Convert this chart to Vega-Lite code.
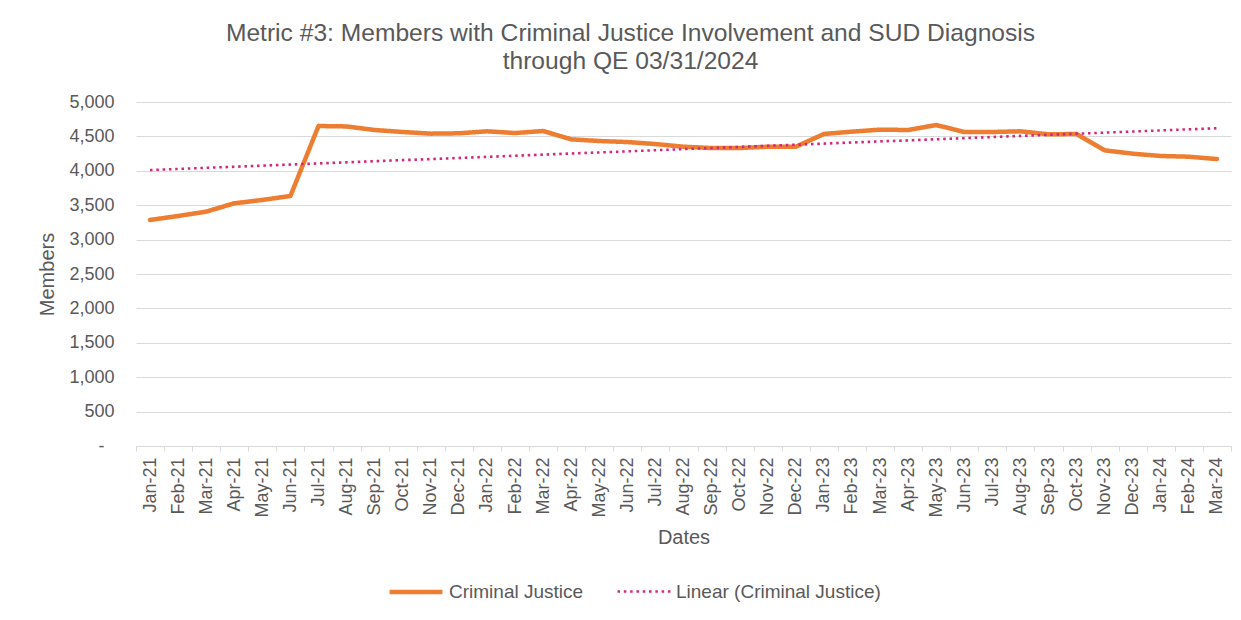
{
  "$schema": "https://vega.github.io/schema/vega-lite/v6.json",
  "width": 1095,
  "height": 344,
  "autosize": {"type": "none"},
  "padding": {"left": 136, "top": 102, "right": 10, "bottom": 174},
  "background": "white",
  "title": {
    "text": ["Metric #3: Members with Criminal Justice Involvement and SUD Diagnosis", "through QE 03/31/2024"],
    "font": "Liberation Sans",
    "fontSize": 24.6,
    "fontWeight": "normal",
    "color": "#595959",
    "anchor": "middle",
    "dx": -53,
    "lineHeight": 28,
    "offset": 18
  },
  "datasets": {
    "cj": [
      {"idx": 0, "month": "Jan-21", "members": 3285, "series": "Criminal Justice", "trend": "Linear (Criminal Justice)"},
      {"idx": 1, "month": "Feb-21", "members": 3343, "series": "Criminal Justice", "trend": "Linear (Criminal Justice)"},
      {"idx": 2, "month": "Mar-21", "members": 3406, "series": "Criminal Justice", "trend": "Linear (Criminal Justice)"},
      {"idx": 3, "month": "Apr-21", "members": 3527, "series": "Criminal Justice", "trend": "Linear (Criminal Justice)"},
      {"idx": 4, "month": "May-21", "members": 3576, "series": "Criminal Justice", "trend": "Linear (Criminal Justice)"},
      {"idx": 5, "month": "Jun-21", "members": 3634, "series": "Criminal Justice", "trend": "Linear (Criminal Justice)"},
      {"idx": 6, "month": "Jul-21", "members": 4651, "series": "Criminal Justice", "trend": "Linear (Criminal Justice)"},
      {"idx": 7, "month": "Aug-21", "members": 4645, "series": "Criminal Justice", "trend": "Linear (Criminal Justice)"},
      {"idx": 8, "month": "Sep-21", "members": 4593, "series": "Criminal Justice", "trend": "Linear (Criminal Justice)"},
      {"idx": 9, "month": "Oct-21", "members": 4564, "series": "Criminal Justice", "trend": "Linear (Criminal Justice)"},
      {"idx": 10, "month": "Nov-21", "members": 4540, "series": "Criminal Justice", "trend": "Linear (Criminal Justice)"},
      {"idx": 11, "month": "Dec-21", "members": 4545, "series": "Criminal Justice", "trend": "Linear (Criminal Justice)"},
      {"idx": 12, "month": "Jan-22", "members": 4574, "series": "Criminal Justice", "trend": "Linear (Criminal Justice)"},
      {"idx": 13, "month": "Feb-22", "members": 4549, "series": "Criminal Justice", "trend": "Linear (Criminal Justice)"},
      {"idx": 14, "month": "Mar-22", "members": 4578, "series": "Criminal Justice", "trend": "Linear (Criminal Justice)"},
      {"idx": 15, "month": "Apr-22", "members": 4457, "series": "Criminal Justice", "trend": "Linear (Criminal Justice)"},
      {"idx": 16, "month": "May-22", "members": 4433, "series": "Criminal Justice", "trend": "Linear (Criminal Justice)"},
      {"idx": 17, "month": "Jun-22", "members": 4418, "series": "Criminal Justice", "trend": "Linear (Criminal Justice)"},
      {"idx": 18, "month": "Jul-22", "members": 4389, "series": "Criminal Justice", "trend": "Linear (Criminal Justice)"},
      {"idx": 19, "month": "Aug-22", "members": 4350, "series": "Criminal Justice", "trend": "Linear (Criminal Justice)"},
      {"idx": 20, "month": "Sep-22", "members": 4331, "series": "Criminal Justice", "trend": "Linear (Criminal Justice)"},
      {"idx": 21, "month": "Oct-22", "members": 4331, "series": "Criminal Justice", "trend": "Linear (Criminal Justice)"},
      {"idx": 22, "month": "Nov-22", "members": 4350, "series": "Criminal Justice", "trend": "Linear (Criminal Justice)"},
      {"idx": 23, "month": "Dec-22", "members": 4350, "series": "Criminal Justice", "trend": "Linear (Criminal Justice)"},
      {"idx": 24, "month": "Jan-23", "members": 4535, "series": "Criminal Justice", "trend": "Linear (Criminal Justice)"},
      {"idx": 25, "month": "Feb-23", "members": 4569, "series": "Criminal Justice", "trend": "Linear (Criminal Justice)"},
      {"idx": 26, "month": "Mar-23", "members": 4598, "series": "Criminal Justice", "trend": "Linear (Criminal Justice)"},
      {"idx": 27, "month": "Apr-23", "members": 4593, "series": "Criminal Justice", "trend": "Linear (Criminal Justice)"},
      {"idx": 28, "month": "May-23", "members": 4665, "series": "Criminal Justice", "trend": "Linear (Criminal Justice)"},
      {"idx": 29, "month": "Jun-23", "members": 4564, "series": "Criminal Justice", "trend": "Linear (Criminal Justice)"},
      {"idx": 30, "month": "Jul-23", "members": 4564, "series": "Criminal Justice", "trend": "Linear (Criminal Justice)"},
      {"idx": 31, "month": "Aug-23", "members": 4574, "series": "Criminal Justice", "trend": "Linear (Criminal Justice)"},
      {"idx": 32, "month": "Sep-23", "members": 4530, "series": "Criminal Justice", "trend": "Linear (Criminal Justice)"},
      {"idx": 33, "month": "Oct-23", "members": 4535, "series": "Criminal Justice", "trend": "Linear (Criminal Justice)"},
      {"idx": 34, "month": "Nov-23", "members": 4297, "series": "Criminal Justice", "trend": "Linear (Criminal Justice)"},
      {"idx": 35, "month": "Dec-23", "members": 4249, "series": "Criminal Justice", "trend": "Linear (Criminal Justice)"},
      {"idx": 36, "month": "Jan-24", "members": 4215, "series": "Criminal Justice", "trend": "Linear (Criminal Justice)"},
      {"idx": 37, "month": "Feb-24", "members": 4205, "series": "Criminal Justice", "trend": "Linear (Criminal Justice)"},
      {"idx": 38, "month": "Mar-24", "members": 4171, "series": "Criminal Justice", "trend": "Linear (Criminal Justice)"}
    ]
  },
  "encoding": {
    "x": {
      "field": "month",
      "type": "ordinal",
      "title": "Dates",
      "scale": {
        "type": "band",
        "paddingInner": 0,
        "paddingOuter": 0,
        "domain": ["Jan-21","Feb-21","Mar-21","Apr-21","May-21","Jun-21","Jul-21","Aug-21","Sep-21","Oct-21","Nov-21","Dec-21","Jan-22","Feb-22","Mar-22","Apr-22","May-22","Jun-22","Jul-22","Aug-22","Sep-22","Oct-22","Nov-22","Dec-22","Jan-23","Feb-23","Mar-23","Apr-23","May-23","Jun-23","Jul-23","Aug-23","Sep-23","Oct-23","Nov-23","Dec-23","Jan-24","Feb-24","Mar-24"]
      },
      "axis": {
        "labelAngle": -90,
        "tickBand": "extent",
        "grid": false,
        "domainColor": "#d9d9d9",
        "tickColor": "#d9d9d9",
        "tickSize": 5,
        "labelPadding": 6,
        "labelFont": "Liberation Sans",
        "labelFontSize": 18,
        "labelColor": "#595959",
        "titleFont": "Liberation Sans",
        "titleFontSize": 20,
        "titleFontWeight": "normal",
        "titleColor": "#595959",
        "titlePadding": 10
      }
    },
    "y": {
      "field": "members",
      "type": "quantitative",
      "title": "Members",
      "scale": {"domain": [0, 5000], "nice": false, "zero": true},
      "axis": {
        "values": [0, 500, 1000, 1500, 2000, 2500, 3000, 3500, 4000, 4500, 5000],
        "labelExpr": "datum.value === 0 ? '-' : format(datum.value, ',')",
        "labelPadding": {"condition": {"test": "datum.value === 0", "value": 32}, "value": 22},
        "domain": false,
        "ticks": false,
        "grid": true,
        "gridColor": "#d9d9d9",
        "gridWidth": 1,
        "labelFont": "Liberation Sans",
        "labelFontSize": 18,
        "labelColor": "#595959",
        "titleFont": "Liberation Sans",
        "titleFontSize": 20,
        "titleFontWeight": "normal",
        "titleColor": "#595959",
        "titlePadding": 11
      }
    },
    "color": {
      "field": "series",
      "type": "nominal",
      "scale": {"domain": ["Criminal Justice", "Linear (Criminal Justice)"], "range": ["#ED7D31", "#D6257E"]},
      "legend": {
        "title": null,
        "orient": "none",
        "legendX": 251,
        "legendY": 461,
        "direction": "horizontal",
        "symbolType": "stroke",
        "symbolSize": 2800,
        "labelFont": "Liberation Sans",
        "labelFontSize": 19,
        "labelColor": "#595959",
        "labelLimit": 400,
        "labelOffset": 4,
        "columnPadding": 28
      }
    },
    "strokeDash": {
      "field": "series",
      "type": "nominal",
      "scale": {"domain": ["Criminal Justice", "Linear (Criminal Justice)"], "range": [[1, 0], [2.5, 3.8]]},
      "legend": null
    },
    "strokeWidth": {
      "field": "series",
      "type": "nominal",
      "scale": {"domain": ["Criminal Justice", "Linear (Criminal Justice)"], "range": [4.5, 2.6]},
      "legend": null
    }
  },
  "layer": [
    {
      "data": {"name": "cj"},
      "mark": {"type": "line", "strokeJoin": "round", "strokeCap": "round"}
    },
    {
      "data": {"name": "cj"},
      "transform": [
        {"regression": "members", "on": "idx"},
        {"lookup": "idx", "from": {"data": {"name": "cj"}, "key": "idx", "fields": ["month", "trend"]}, "as": ["month", "series"]}
      ],
      "mark": {"type": "line", "strokeCap": "butt"}
    }
  ],
  "config": {
    "view": {"stroke": null},
    "font": "Liberation Sans"
  }
}
